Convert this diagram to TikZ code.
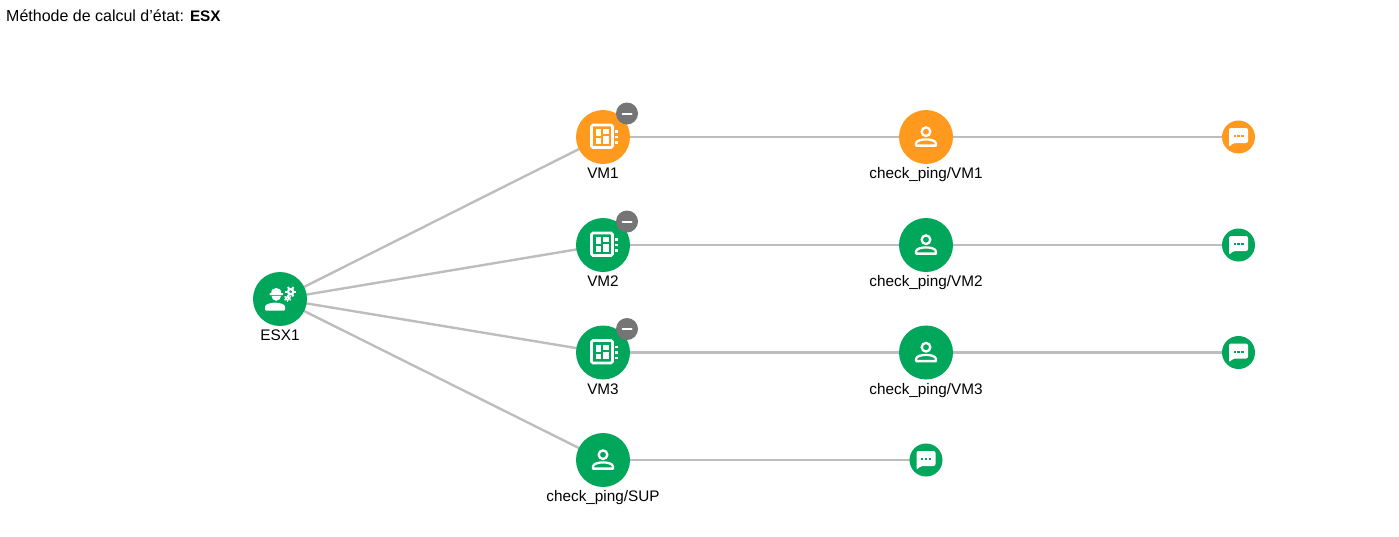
\documentclass[tikz,border=0pt]{standalone}
\usepackage{fontspec}
\setmainfont{Liberation Sans}
\usetikzlibrary{backgrounds}
\definecolor{okgreen}{HTML}{00A65A}
\definecolor{warnorange}{HTML}{FF9A1F}
\definecolor{linkgrey}{HTML}{BDBDBD}
\definecolor{badgegrey}{HTML}{757575}
\tikzset{
  x=1pt,y=-1pt,
  bigdot/.style={circle,fill=#1,draw=none,minimum size=54pt,inner sep=0pt},
  smalldot/.style={circle,fill=#1,draw=none,minimum size=33pt,inner sep=0pt},
  badge/.style={circle,fill=badgegrey,draw=none,minimum size=22pt,inner sep=0pt},
  lab/.style={font=\fontsize{15.3}{17}\selectfont,text=black,inner sep=0pt,anchor=base},
  link/.style={draw=linkgrey,line width=2.4pt},
  pics/vmicon/.style={code={
    \draw[white,line width=2.8pt,rounded corners=1.5pt] (-11.5,-12) rectangle (9.5,10.5);
    \fill[white] (-7.5,-8) rectangle (-2,-1);
    \fill[white] (-7.5,1) rectangle (-2,6.5);
    \fill[white] (0,-8) rectangle (5.5,-3);
    \fill[white] (0,-1) rectangle (5.5,6.5);
    \fill[white] (11.5,-7) rectangle (14.5,-4.5);
    \fill[white] (11.5,-1.5) rectangle (14.5,1);
    \fill[white] (11.5,4) rectangle (14.5,6.5);
  }},
  pics/personicon/.style={code={
    \draw[white,line width=2.3pt] (0,-5.3) circle (4.3);
    \draw[white,line width=2.3pt,line join=round] (-10,8.6) -- (-10,6.6) .. controls (-10,3.5) and (-4,2.4) .. (0,2.4) .. controls (4,2.4) and (10,3.5) .. (10,6.6) -- (10,8.6) -- cycle;
  }},
  pics/commenticon/.style={code={
    \fill[white,rounded corners=2pt] (-9.5,-9) -- (9.5,-9) -- (9.5,6) -- (-5.5,6) -- (-9.5,10) -- cycle;
    \fill[#1] (-5,-2) rectangle (-2.6,0.4);
    \fill[#1] (-1.2,-2) rectangle (1.2,0.4);
    \fill[#1] (2.6,-2) rectangle (5,0.4);
  }},
  pics/workericon/.style={code={
    \fill[white] (-10.5,-5.8) -- (-8.8,-5.8) .. controls (-8.8,-9.5) and (-6.5,-11) .. (-3.8,-11) .. controls (-1,-11) and (1.2,-9.5) .. (1.2,-5.8) -- (3,-5.8) -- (3,-4) -- (-10.5,-4) -- cycle;
    \fill[white] (-8.5,-3.2) -- (1,-3.2) .. controls (1,-0.5) and (-1,1.8) .. (-3.8,1.8) .. controls (-6.5,1.8) and (-8.5,-0.5) .. (-8.5,-3.2) -- cycle;
    \fill[white,rounded corners=1pt] (-15,11.7) -- (-15,8.5) .. controls (-15,5) and (-8,3.7) .. (-5,3.7) .. controls (-1,3.7) and (5,5) .. (5,8.5) -- (5,11.7) -- cycle;
    \draw[white,line width=2.2pt] (10.7,-7.3) circle (2.6);
    \foreach \a in {0,60,...,300}{\draw[white,line width=2pt] (10.7,-7.3) ++(\a:3.4) -- ++(\a:2);}
    \draw[white,line width=1.6pt] (7.7,-0.7) circle (1.8);
    \foreach \a in {30,90,...,330}{\draw[white,line width=1.4pt] (7.7,-0.7) ++(\a:2.3) -- ++(\a:1.3);}
  }},
  pics/minusicon/.style={code={
    \draw[white,line width=2pt,line cap=round] (-4.5,0) -- (4.5,0);
  }},
}
\begin{document}
\begin{tikzpicture}
\useasboundingbox (0,0) rectangle (1399,536);
\node[anchor=base west,inner sep=0pt] (title) at (6,21) {\fontsize{16}{18}\selectfont Méthode de calcul d'état: \fontsize{15.3}{18}\selectfont\textbf{ESX}};

\node[bigdot=okgreen] (esx) at (280,299) {};
\node[lab] (esxl) at (280,340) {ESX1};

\node[bigdot=warnorange] (vm1) at (603,137) {};
\node[bigdot=okgreen] (vm2) at (603,245) {};
\node[bigdot=okgreen] (vm3) at (603,352.5) {};
\node[bigdot=okgreen] (sup) at (603,460) {};
\node[lab] (vm1l) at (603,178) {VM1};
\node[lab] (vm2l) at (603,286) {VM2};
\node[lab] (vm3l) at (603,394) {VM3};
\node[lab] (supl) at (603,501.5) {check\_ping/SUP};

\node[bigdot=warnorange] (c1) at (926,137) {};
\node[bigdot=okgreen] (c2) at (926,245) {};
\node[bigdot=okgreen] (c3) at (926,352.5) {};
\node[lab] (c1l) at (926,178) {check\_ping/VM1};
\node[lab] (c2l) at (926,286) {check\_ping/VM2};
\node[lab] (c3l) at (926,394) {check\_ping/VM3};

\node[smalldot=warnorange] (m1) at (1238.5,137) {};
\node[smalldot=okgreen] (m2) at (1238.5,245) {};
\node[smalldot=okgreen] (m3) at (1238.5,352.5) {};
\node[smalldot=okgreen] (m4) at (926,460) {};

\node[badge] (b1) at (627,113.5) {};
\node[badge] (b2) at (627,221.5) {};
\node[badge] (b3) at (627,329) {};

\begin{scope}[on background layer]
\draw[link] (esx.center) -- (vm1.center);
\draw[link] (esx.center) -- (vm2.center);
\draw[link] (esx.center) -- (vm3.center);
\draw[link] (esx.center) -- (sup.center);
\draw[link] (vm1.center) -- (c1.center);
\draw[link] (vm2.center) -- (c2.center);
\draw[link] (vm3.center) -- (c3.center);
\draw[link] (c1.center) -- (m1.center);
\draw[link] (c2.center) -- (m2.center);
\draw[link] (c3.center) -- (m3.center);
\draw[link] (sup.center) -- (m4.center);
\end{scope}

\pic at (esx) {workericon};
\pic at (vm1) {vmicon};
\pic at (vm2) {vmicon};
\pic at (vm3) {vmicon};
\pic at (sup) {personicon};
\pic at (c1) {personicon};
\pic at (c2) {personicon};
\pic at (c3) {personicon};
\pic at (m1) {commenticon=warnorange};
\pic at (m2) {commenticon=okgreen};
\pic at (m3) {commenticon=okgreen};
\pic at (m4) {commenticon=okgreen};
\pic at (b1) {minusicon};
\pic at (b2) {minusicon};
\pic at (b3) {minusicon};
\end{tikzpicture}
\end{document}
